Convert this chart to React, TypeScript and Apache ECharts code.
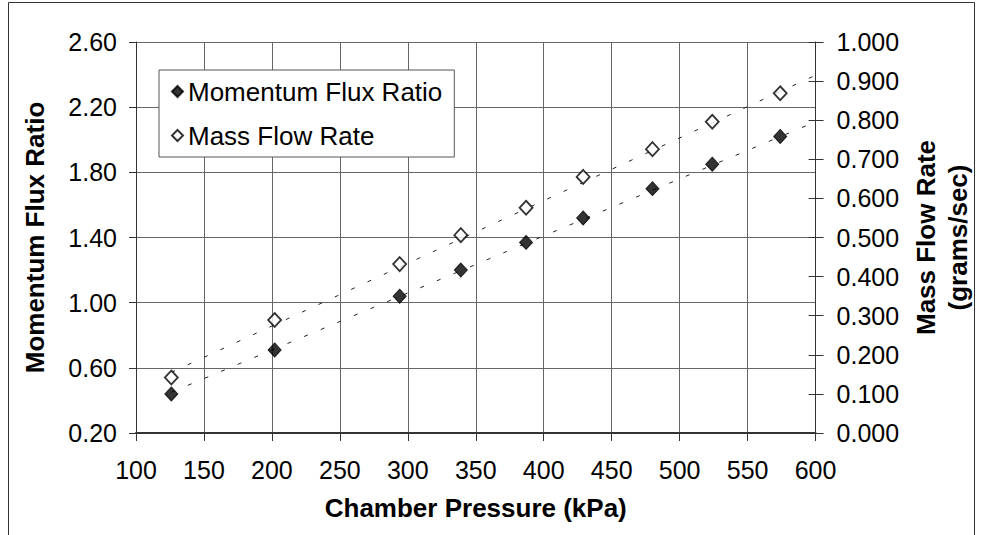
import React, { useEffect, useRef } from "react";
import * as echarts from "echarts";

const pressure = [126, 202, 294, 339, 387, 429, 480, 524, 574];
const momentumFluxRatio = [0.44, 0.71, 1.04, 1.2, 1.37, 1.52, 1.7, 1.85, 2.02];
const massFlowRate = [0.142, 0.289, 0.432, 0.506, 0.576, 0.655, 0.726, 0.796, 0.869];
const momentumTrend = [
  [126, 0.45],
  [600, 2.11],
];
const massTrend = [
  [126, 0.155],
  [600, 0.915],
];

const FONT = "'Liberation Sans', Arial, sans-serif";

export default function App() {
  const ref = useRef<HTMLDivElement>(null);
  useEffect(() => {
    if (!ref.current) return;
    const chart = echarts.init(ref.current, null, { renderer: "svg" });
    const axisColor = "#333";
    const gridColor = "#666";
    chart.setOption({
      animation: false,
      backgroundColor: "#fff",
      textStyle: { fontFamily: FONT, color: "#000" },
      grid: { left: 136, right: 155, top: 42, bottom: 102, containLabel: false },
      legend: {
        data: ["Momentum Flux Ratio", "Mass Flow Rate"],
        orient: "vertical",
        left: 159,
        top: 70,
        padding: [8, 12, 8, 12],
        itemWidth: 11,
        itemHeight: 11,
        itemGap: 17,
        backgroundColor: "#fff",
        borderColor: "#555",
        borderWidth: 1,
        borderRadius: 0,
        textStyle: { fontSize: 26, fontFamily: FONT, color: "#000", lineHeight: 27 },
      },
      xAxis: {
        type: "value",
        min: 100,
        max: 600,
        interval: 50,
        name: "Chamber Pressure (kPa)",
        nameLocation: "middle",
        nameGap: 62,
        nameTextStyle: { fontSize: 26, fontWeight: "bold", fontFamily: FONT, color: "#000" },
        axisLine: { show: true, lineStyle: { color: axisColor, width: 2 } },
        axisTick: { show: true, inside: false, length: 8, lineStyle: { color: axisColor } },
        axisLabel: { fontSize: 25, margin: 24, color: "#000", fontFamily: FONT },
        splitLine: { show: true, lineStyle: { color: gridColor, width: 1 } },
      },
      yAxis: [
        {
          type: "value",
          position: "left",
          min: 0.2,
          max: 2.6,
          interval: 0.4,
          name: "Momentum Flux Ratio",
          nameLocation: "middle",
          nameRotate: 90,
          nameGap: 88,
          nameTextStyle: { fontSize: 26, fontWeight: "bold", fontFamily: FONT, color: "#000" },
          axisLine: { show: true, lineStyle: { color: axisColor, width: 1 } },
          axisTick: { show: true, inside: false, length: 7, lineStyle: { color: axisColor } },
          axisLabel: {
            fontSize: 25,
            margin: 19,
            color: "#000",
            fontFamily: FONT,
            formatter: (v: number) => v.toFixed(2),
          },
          splitLine: { show: true, lineStyle: { color: gridColor, width: 1 } },
        },
        {
          type: "value",
          position: "right",
          min: 0,
          max: 1,
          interval: 0.1,
          name: "Mass Flow Rate\n(grams/sec)",
          nameLocation: "middle",
          nameRotate: 90,
          nameGap: 93,
          nameTextStyle: {
            fontSize: 26,
            fontWeight: "bold",
            fontFamily: FONT,
            color: "#000",
            lineHeight: 32,
          },
          axisLine: { show: true, lineStyle: { color: axisColor, width: 1 } },
          axisTick: { show: true, inside: false, length: 8, lineStyle: { color: axisColor } },
          axisLabel: {
            fontSize: 25,
            margin: 21,
            color: "#000",
            fontFamily: FONT,
            formatter: (v: number) => v.toFixed(3),
          },
          splitLine: { show: false },
        },
        {
          type: "value",
          position: "right",
          min: 0,
          max: 1,
          interval: 0.1,
          axisLine: { show: false },
          axisTick: { show: true, inside: true, length: 7, lineStyle: { color: axisColor } },
          axisLabel: { show: false },
          splitLine: { show: false },
        },
      ],
      series: [
        {
          name: "Momentum Flux Trend",
          type: "line",
          yAxisIndex: 0,
          data: momentumTrend,
          symbol: "none",
          silent: true,
          z: 1,
          lineStyle: { color: "#222", width: 1, type: [4, 14] },
        },
        {
          name: "Mass Flow Trend",
          type: "line",
          yAxisIndex: 1,
          data: massTrend,
          symbol: "none",
          silent: true,
          z: 1,
          lineStyle: { color: "#222", width: 1, type: [4, 14] },
        },
        {
          name: "Momentum Flux Ratio",
          type: "scatter",
          yAxisIndex: 0,
          data: pressure.map((p, i) => [p, momentumFluxRatio[i]]),
          symbol: "diamond",
          symbolSize: [13, 14],
          z: 3,
          itemStyle: { color: "#000", borderColor: "#000", borderWidth: 1 },
        },
        {
          name: "Mass Flow Rate",
          type: "scatter",
          yAxisIndex: 1,
          data: pressure.map((p, i) => [p, massFlowRate[i]]),
          symbol: "diamond",
          symbolSize: [13, 14],
          z: 3,
          itemStyle: { color: "#fff", borderColor: "#000", borderWidth: 1.8 },
        },
      ],
      graphic: [
        {
          type: "rect",
          shape: { x: 8.5, y: 2.5, width: 966, height: 600 },
          style: { fill: "none", stroke: "#333", lineWidth: 1 },
          silent: true,
          z: -1,
        },
      ],
    });
    return () => chart.dispose();
  }, []);
  return (
    <div
      ref={ref}
      style={{ position: "fixed", left: 0, top: 0, width: 982, height: 535 }}
    />
  );
}
